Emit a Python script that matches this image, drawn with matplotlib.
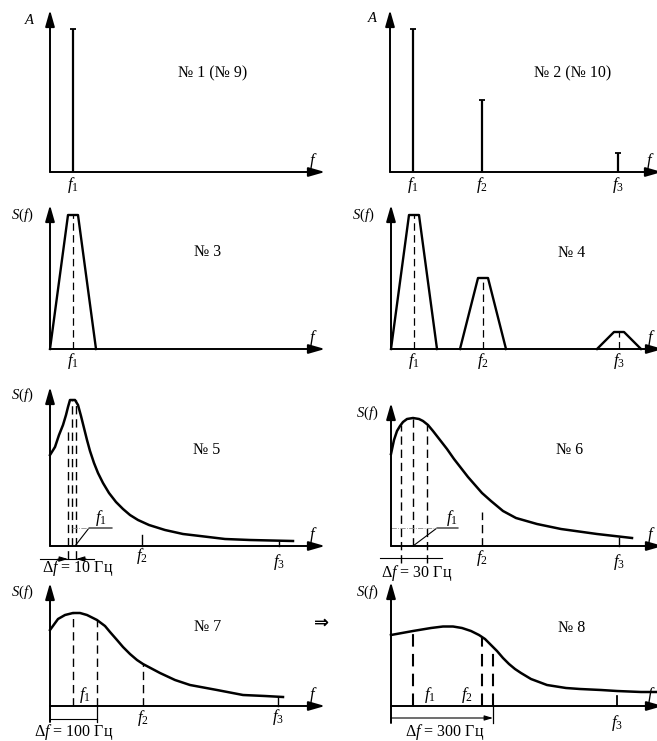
import numpy as np
import matplotlib.pyplot as plt

plt.rcParams['font.family'] = ['Liberation Serif', 'DejaVu Serif']
plt.rcParams['mathtext.fontset'] = 'custom'
plt.rcParams['mathtext.it'] = 'Liberation Serif:italic'
plt.rcParams['mathtext.rm'] = 'Liberation Serif'

W, H = 657, 741

# positions of f1, f2, f3 along every frequency axis (same units as the panels)
freq_pos = [23, 92, 228]
freq_names = ['$f_1$', '$f_2$', '$f_3$']

# No 1 / No 2 - line spectra
amp_1 = [143]
amp_2 = [143, 72, 19]

# No 3 / No 4 - band spectra (trapezoids)
band_half_base = [23, 23, 22]
band_half_top = [5, 5, 5]
band_3 = [134]
band_4 = [134, 71, 17]

# No 5 .. No 8 - continuous spectra
curve5_x = [0, 5, 9, 13, 16, 18, 20, 25, 28, 31, 34, 37, 40, 44, 48, 53, 59, 66, 73, 80, 88, 99, 115, 133, 150, 175, 200, 243]
curve5_y = [91, 99, 111, 121, 131, 139, 146, 146, 141, 130, 118, 106, 95, 83, 73, 63, 53, 44, 37, 31, 26, 21, 16, 12, 10, 7, 6, 5]

curve6_x = [0, 3, 6, 9, 12, 16, 22, 28, 32, 37, 42, 49, 56, 63, 70, 77, 84, 91, 100, 112, 125, 146, 170, 206, 241]
curve6_y = [92, 106, 115, 120, 124, 127, 128, 127, 125, 121, 115, 106, 97, 87, 78, 69, 61, 53, 45, 35, 28, 22, 17, 12, 8]

curve7_x = [0, 8, 15, 23, 30, 37, 47, 55, 60, 67, 73, 80, 87, 93, 110, 125, 140, 167, 193, 215, 233]
curve7_y = [76, 87, 91, 93, 93, 91, 86, 80, 74, 66, 59, 52, 46, 42, 33, 26, 21, 16, 11, 10, 9]

curve8_x = [0, 22, 40, 52, 62, 71, 80, 88, 94, 100, 106, 112, 118, 124, 130, 140, 156, 175, 189, 210, 226, 250, 269]
curve8_y = [71, 75, 78, 79.5, 79.5, 78, 75, 71, 67, 61, 55, 48, 42, 37, 33, 27, 21, 18, 17, 16, 15, 14, 14]

# bandwidth markers (dashed verticals) and the band width text
band5_x = [18, 22, 26]
band6_x = [10, 22, 36]
band7_x = [23, 47]
band8_x = [22, 91, 102]
bandwidth = ['Δ$f$ = 10 Гц', 'Δ$f$ = 30 Гц', 'Δ$f$ = 100 Гц', 'Δ$f$ = 300 Гц']

titles = ['№ 1 (№ 9)', '№ 2 (№ 10)', '№ 3', '№ 4', '№ 5', '№ 6', '№ 7', '№ 8']

fig = plt.figure(figsize=(W / 100, H / 100), dpi=100)

K = 'k'
DASH = (0, (6, 3.5))
BW_SIZE = 11.5


def panel(ox, oy, x0, x1, ytop, ybot):
    # axes in pixel units measured from the origin of the sketch
    ax = fig.add_axes([x0 / W, 1 - ybot / H, (x1 - x0) / W, (ybot - ytop) / H])
    ax.set_xlim(x0 - ox, x1 - ox)
    ax.set_ylim(oy - ybot, oy - ytop)
    ax.axis('off')
    return ax


def arrow_axes(ax, ylen, xlen, ylabel, ylab_xy, below=0):
    ap = dict(arrowstyle='-|>,head_length=0.7,head_width=0.2', lw=1.4, color=K,
              shrinkA=0, shrinkB=0, mutation_scale=14)
    ax.annotate('', xy=(0, ylen), xytext=(0, -below), arrowprops=ap, annotation_clip=False)
    ax.annotate('', xy=(xlen, 0), xytext=(0, 0), arrowprops=ap, annotation_clip=False)
    ax.text(*ylab_xy, ylabel, fontsize=10.5, ha='center', va='center')
    ax.text(xlen - 12, 11, '$f$', fontsize=12, ha='center', va='center')


def vline(ax, x, y0, y1, dashed=True, lw=1.0):
    ax.plot([x, x], [y0, y1], color=K, lw=lw, ls=DASH if dashed else '-', clip_on=False)


def title(ax, xy, s):
    ax.text(*xy, s, fontsize=11.5, ha='center', va='center')


def flabel(ax, x, y, s):
    ax.text(x, y, s, fontsize=12, ha='center', va='center')


# ---------- row 1: line spectra ----------
ax1 = panel(50, 172, 0, 330, 0, 190)
arrow_axes(ax1, 162, 275, '$A$', (-20, 152))
ax1.vlines(freq_pos[:1], 0, amp_1, color=K, lw=1.6)
ax1.plot(freq_pos[:1], amp_1, '_', color=K, ms=5, mew=1.3)
flabel(ax1, freq_pos[0], -13, freq_names[0])
title(ax1, (163, 99), titles[0])

ax2 = panel(390, 172, 330, 657, 0, 190)
arrow_axes(ax2, 162, 272, '$A$', (-17, 154))
ax2.vlines(freq_pos, 0, amp_2, color=K, lw=1.6)
ax2.plot(freq_pos, amp_2, '_', color=K, ms=5, mew=1.3, ls='none')
for x, s in zip(freq_pos, freq_names):
    flabel(ax2, x, -13, s)
title(ax2, (183, 99), titles[1])

# ---------- row 2: band spectra ----------
ax3 = panel(50, 349, 0, 330, 190, 380)
arrow_axes(ax3, 144, 275, '$S(f)$', (-28, 134))
ax4 = panel(391, 349, 330, 657, 190, 380)
arrow_axes(ax4, 144, 272, '$S(f)$', (-28, 134))
for ax, heights in [(ax3, band_3), (ax4, band_4)]:
    for c, hb, ht, h in zip(freq_pos, band_half_base, band_half_top, heights):
        ax.plot([c - hb, c - ht, c + ht, c + hb], [0, h, h, 0], color=K, lw=1.7, clip_on=False)
        vline(ax, c, 0, h, lw=0.9)
for x, s in zip(freq_pos[:1], freq_names):
    flabel(ax3, x, -12, s)
for x, s in zip(freq_pos, freq_names):
    flabel(ax4, x, -12, s)
title(ax3, (158, 97), titles[2])
title(ax4, (181, 96), titles[3])

# ---------- row 3: narrow continuous spectra ----------
ax5 = panel(50, 546, 0, 330, 380, 590)
arrow_axes(ax5, 159, 275, '$S(f)$', (-28, 151))
ax5.plot(curve5_x, curve5_y, color=K, lw=1.8, clip_on=False)
vline(ax5, band5_x[0], -13, 116)
vline(ax5, band5_x[1], 0, 146)
vline(ax5, band5_x[2], -13, 146)
vline(ax5, freq_pos[1], 0, 11, dashed=False)
vline(ax5, freq_pos[2] + 1, 0, 4, dashed=False)
ax5.plot([band5_x[2] - 1, 39, 62], [0, 18, 18], color=K, lw=0.8)
ax5.plot([band5_x[1], 39], [18, 18], color='0.55', lw=0.6, ls='-.')
ax5.plot([-10, 44], [-13, -13], color=K, lw=0.8)
sm = dict(arrowstyle='-|>,head_length=0.5,head_width=0.15', color=K, lw=0.8,
          shrinkA=0, shrinkB=0, mutation_scale=10)
ax5.annotate('', xy=(band5_x[0], -13), xytext=(band5_x[0] - 10, -13), arrowprops=sm)
ax5.annotate('', xy=(band5_x[2], -13), xytext=(band5_x[2] + 10, -13), arrowprops=sm)
flabel(ax5, 51, 28, freq_names[0])
flabel(ax5, freq_pos[1], -10, freq_names[1])
flabel(ax5, freq_pos[2] + 1, -16, freq_names[2])
ax5.text(28, -22, bandwidth[0], fontsize=BW_SIZE, ha='center', va='center')
title(ax5, (157, 96), titles[4])

ax6 = panel(391, 546, 330, 657, 380, 590)
arrow_axes(ax6, 143, 272, '$S(f)$', (-24, 133))
ax6.plot(curve6_x, curve6_y, color=K, lw=1.8, clip_on=False)
vline(ax6, band6_x[0], -17, 121)
vline(ax6, band6_x[1], 0, 128)
vline(ax6, band6_x[2], -17, 121)
vline(ax6, freq_pos[1] - 1, 0, 34)
vline(ax6, freq_pos[2], 0, 8, dashed=False)
ax6.plot([band6_x[1], 46, 67], [0, 18, 18], color=K, lw=0.8)
ax6.plot([0, 46], [18, 18], color='0.55', lw=0.6, ls='-.')
ax6.plot([-11, 51], [-12, -12], color=K, lw=0.8)
flabel(ax6, 61, 28, freq_names[0])
flabel(ax6, freq_pos[1] - 1, -12, freq_names[1])
flabel(ax6, freq_pos[2], -16, freq_names[2])
ax6.text(26, -27, bandwidth[1], fontsize=BW_SIZE, ha='center', va='center')
title(ax6, (179, 96), titles[5])

# ---------- row 4: wide continuous spectra ----------
ax7 = panel(50, 706, 0, 330, 575, 741)
arrow_axes(ax7, 123, 275, '$S(f)$', (-28, 114), below=16)
ax7.plot(curve7_x, curve7_y, color=K, lw=1.8, clip_on=False)
vline(ax7, band7_x[0], 0, 93)
vline(ax7, band7_x[1], 0, 86)
vline(ax7, band7_x[1], -16, 0, dashed=False, lw=0.9)
vline(ax7, freq_pos[1] + 1, 0, 42)
vline(ax7, freq_pos[2], 0, 9, dashed=False)
ax7.plot([0, band7_x[1]], [-13, -13], color=K, lw=0.8)
flabel(ax7, 35, 11, freq_names[0])
flabel(ax7, freq_pos[1] + 1, -12, freq_names[1])
flabel(ax7, freq_pos[2], -11, freq_names[2])
ax7.text(24, -26, bandwidth[2], fontsize=BW_SIZE, ha='center', va='center')
title(ax7, (158, 79), titles[6])
ax7.text(272, 83, '⇒', fontsize=13, ha='center', va='center', fontweight='bold',
         family=['DejaVu Sans'])

ax8 = panel(391, 706, 330, 657, 575, 741)
arrow_axes(ax8, 124, 272, '$S(f)$', (-24, 114), below=17)
ax8.plot(curve8_x, curve8_y, color=K, lw=1.8, clip_on=False)
for x, top in zip(band8_x, [75, 69, 58]):
    vline(ax8, x, 0, top, lw=1.5)
vline(ax8, band8_x[2], -17, 0, dashed=False, lw=0.9)
vline(ax8, freq_pos[2] - 2, 0, 15, lw=1.3)
ax8.annotate('', xy=(band8_x[2], -12), xytext=(0, -12),
             arrowprops=dict(arrowstyle='-|>,head_length=0.5,head_width=0.15', color=K,
                             lw=0.8, shrinkA=0, shrinkB=0, mutation_scale=10))
flabel(ax8, 39, 11, freq_names[0])
flabel(ax8, 76, 11, freq_names[1])
flabel(ax8, freq_pos[2] - 2, -17, freq_names[2])
ax8.text(54, -26, bandwidth[3], fontsize=BW_SIZE, ha='center', va='center')
title(ax8, (181, 78), titles[7])

fig.savefig('out.png', dpi=100, facecolor='white')
